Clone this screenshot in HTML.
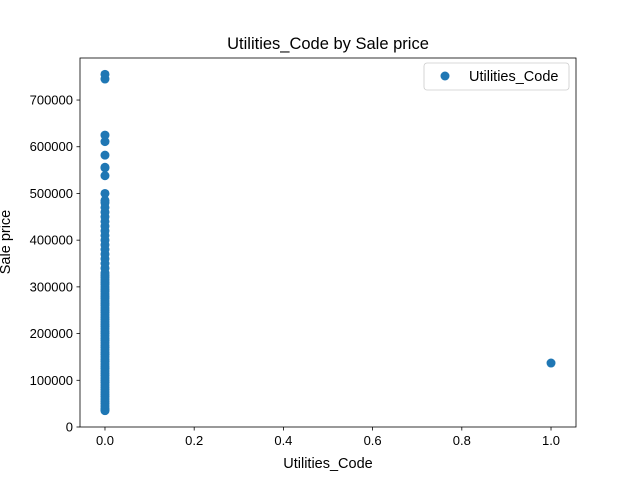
<!DOCTYPE html>
<html><head><meta charset="utf-8"><style>
body{margin:0;background:#fff}
svg{font-family:"Liberation Sans","DejaVu Sans",sans-serif}
</style></head><body>
<svg id="chart" width="640" height="480">
<rect width="640" height="480" fill="#fff"/>
<g id="marks"></g>
<rect x="80" y="58" width="496" height="369" fill="none" stroke="#000" stroke-width="0.8"/>
<g id="axes" font-size="13"></g>
<text x="328" y="49" text-anchor="middle" font-size="16.5">Utilities_Code by Sale price</text>
<text x="328" y="468" text-anchor="middle" font-size="14.5">Utilities_Code</text>
<text transform="translate(10,242) rotate(-90)" text-anchor="middle" font-size="14.5">Sale price</text>
<g>
<rect x="424" y="63" width="145" height="27" rx="3" fill="#fff" stroke="#ccc" stroke-width="0.8"/>
<circle cx="445" cy="76" r="4.5" fill="#1f77b4"/>
<text x="469" y="81" font-size="14.5">Utilities_Code</text>
</g>
</svg>
<script>
const salePrices0 = [35000,37000,40000,45000,50000,55000,60000,65000,70000,75000,80000,85000,90000,95000,100000,105000,110000,115000,120000,125000,130000,135000,140000,145000,150000,155000,160000,165000,170000,175000,180000,185000,190000,195000,200000,205000,210000,215000,220000,225000,230000,235000,240000,245000,250000,255000,260000,265000,270000,275000,280000,285000,290000,295000,300000,305000,310000,315000,320000,325000,330000,340000,350000,360000,370000,380000,390000,400000,410000,420000,430000,440000,450000,460000,470000,480000,485000,500000,538000,555000,556000,582000,611000,625000,745000,755000];
const codes1 = [1];
const salePrices1 = [137000];
const xTicks = [0.0,0.2,0.4,0.6,0.8,1.0];
const xTickLabels = ["0.0","0.2","0.4","0.6","0.8","1.0"];
const yTicks = [0,100000,200000,300000,400000,500000,600000,700000];
const yTickLabels = ["0","100000","200000","300000","400000","500000","600000","700000"];

const X0=80,X1=576,Y0=427,Y1=58,xmin=-0.056,xmax=1.056,ymin=0,ymax=790000;
function sx(v){return X0+(v-xmin)/(xmax-xmin)*(X1-X0);}
function sy(v){return Y0-(v-ymin)/(ymax-ymin)*(Y0-Y1);}
const NS="http://www.w3.org/2000/svg";
const marks=document.getElementById('marks');
function dot(x,y){
  const c=document.createElementNS(NS,'circle');
  c.setAttribute('cx',sx(x));c.setAttribute('cy',sy(y));c.setAttribute('r',4.5);c.setAttribute('fill','#1f77b4');
  
  
  marks.appendChild(c);
}
salePrices0.forEach(p=>dot(0,p));
salePrices1.forEach((p,i)=>dot(codes1[i],p));
const axes=document.getElementById('axes');
xTicks.forEach((t,i)=>{
  const l=document.createElementNS(NS,'line');
  l.setAttribute('x1',sx(t));l.setAttribute('x2',sx(t));l.setAttribute('y1',Y0);l.setAttribute('y2',Y0+3.5);l.setAttribute('stroke','#000');l.setAttribute('stroke-width','0.8');
  
  
  axes.appendChild(l);
  const tx=document.createElementNS(NS,'text');
  tx.setAttribute('x',sx(t));tx.setAttribute('y',Y0+18);tx.setAttribute('text-anchor','middle');tx.textContent=xTickLabels[i];
  
  
  axes.appendChild(tx);
});
yTicks.forEach((t,i)=>{
  const l=document.createElementNS(NS,'line');
  l.setAttribute('x1',X0-3.5);l.setAttribute('x2',X0);l.setAttribute('y1',sy(t));l.setAttribute('y2',sy(t));l.setAttribute('stroke','#000');l.setAttribute('stroke-width','0.8');
  
  
  axes.appendChild(l);
  const tx=document.createElementNS(NS,'text');
  tx.setAttribute('x',X0-7);tx.setAttribute('y',sy(t)+4.5);tx.setAttribute('text-anchor','end');tx.textContent=yTickLabels[i];
  
  
  axes.appendChild(tx);
});
</script>
</body></html>
